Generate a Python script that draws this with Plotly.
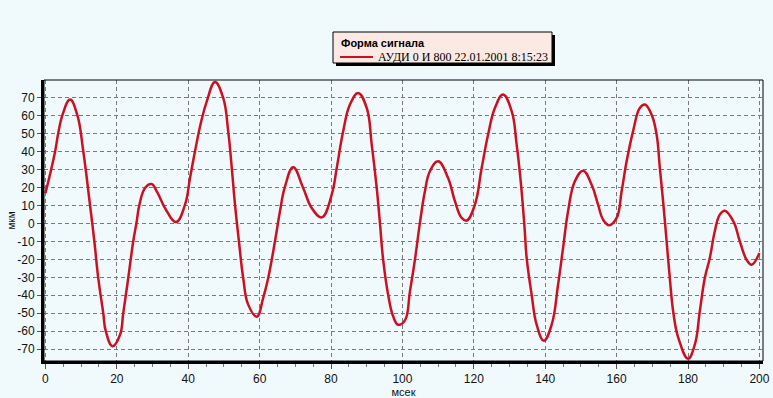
import plotly.graph_objects as go

# Signal samples (time in ms, amplitude in µm)
t_ms = [0, 2.7, 3.6, 4.8, 6.9, 8.9, 10.6, 12.5, 13.7, 14.8, 16.2, 16.9, 18.8,
        20.9, 21.8, 23.2, 24.6, 25.5, 26.3, 27.9, 29.7, 31.3, 33.8, 36.6,
        39.1, 40.5, 41.9, 43.6, 45.2, 47.5, 49.8, 51.2, 52.2, 53.1, 54.2,
        55.4, 56.8, 59.2, 61.0, 62.4, 64.3, 65.7, 67.1, 69.4, 72.2, 74.6,
        77.4, 80.2, 81.6, 83.4, 85.3, 87.6, 90.0, 91.4, 92.8, 93.7, 94.6,
        96.0, 97.4, 98.8, 100.7, 102.1, 103.5, 104.9, 106.3, 107.7, 110.0,
        112.8, 114.7, 116.6, 118.0, 120.3, 122.2, 124.0, 125.9, 128.2, 130.6,
        132.0, 133.2, 134.2, 134.8, 136.2, 137.6, 139.6, 141.8, 143.6, 145.0,
        146.4, 148.3, 150.6, 153.0, 154.8, 156.2, 157.9, 160.0, 161.4, 162.8,
        164.6, 166.5, 167.9, 169.8, 171.2, 172.1, 173.1, 174.0, 174.9, 175.9,
        177.3, 180.0, 181.9, 183.3, 184.7, 186.1, 187.5, 188.9, 190.3, 192.7,
        194.5, 196.4, 197.8, 200.0]
amp_um = [16.8, 40.0, 50.4, 60.6, 69.0, 60.6, 40.2, 10.1, -9.9, -30.4, -49.9, -60.0, -68.4,
          -62.0, -49.9, -30.4, -9.9, 0.3, 10.1, 19.8, 22.0, 17.5, 7.5, 0.8,
          10.5, 25.3, 40.2, 56.5, 68.0, 78.8, 69.9, 51.3, 30.9, 10.5, -9.9,
          -30.4, -45.2, -51.9, -41.5, -30.4, -9.9, 6.8, 20.5, 31.3, 19.8, 8.6,
          3.4, 16.0, 30.9, 51.3, 66.2, 72.7, 64.3, 43.9, 19.8, 0.3, -20.2,
          -39.7, -51.7, -56.4, -54.0, -37.8, -20.2, 0.3, 17.9, 29.1, 34.6,
          25.3, 12.4, 3.1, 1.6, 10.5, 30.9, 49.5, 64.3, 71.8, 62.5,
          43.9, 22.0, -2.0, -19.2, -39.7, -56.4, -65.3, -56.4, -34.1, -13.6,
          6.8, 23.5, 29.4, 21.6, 10.5, 2.1, -1.0, 3.1, 17.9, 34.6,
          51.3, 64.3, 66.2, 60.6, 49.5, 30.9, 10.5, -9.9, -30.4, -49.9,
          -63.8, -75.3, -67.5, -48.9, -30.4, -19.2, -4.3, 4.9, 7.1, 1.2,
          -9.9, -20.2, -23.0, -16.4]

x_ticks = list(range(0, 201, 20))
y_ticks = list(range(-70, 71, 10))

series_name = "АУДИ 0 И 800 22.01.2001 8:15:23"
legend_title = "Форма сигнала"

W, H = 773, 398
ML, MR, MT, MB = 44, 10, 80, 37
PW, PH = W - ML - MR, H - MT - MB

def px(x):
    return (x - ML) / PW

def py(y):
    return (H - MB - y) / PH

bg = "#F0FAFD"
red = "#CC1020"

fig = go.Figure()
fig.add_trace(go.Scatter(
    x=t_ms, y=amp_um, mode="lines", name=series_name, showlegend=False,
    line=dict(color=red, width=2.5, shape="spline", smoothing=1.2),
))

# Legend box drawn by hand (box, shadow, sample line, texts)
LX0, LX1, LY0, LY1 = 333, 552, 32, 63
shapes = [
    dict(type="rect", xref="paper", yref="paper", x0=0, x1=1, y0=0, y1=1,
         line=dict(color="#000000", width=1), layer="above"),
    dict(type="rect", xref="paper", yref="paper",
         x0=px(LX0 + 3), x1=px(LX1 + 3), y0=py(LY1 + 3), y1=py(LY0 + 3),
         fillcolor="#000000", line=dict(width=0), layer="above"),
    dict(type="rect", xref="paper", yref="paper",
         x0=px(LX0), x1=px(LX1), y0=py(LY1), y1=py(LY0),
         fillcolor="#FBEAE4", line=dict(color="#000000", width=1), layer="above"),
    dict(type="line", xref="paper", yref="paper",
         x0=px(340), x1=px(373), y0=py(57), y1=py(57),
         line=dict(color=red, width=2), layer="above"),
]
annotations = [
    dict(text="<b>" + legend_title + "</b>", xref="paper", yref="paper",
         x=px(339), y=py(43), xanchor="left", yanchor="middle", showarrow=False,
         font=dict(family="Liberation Sans, Arial, sans-serif", size=11, color="#000000")),
    dict(text=series_name, xref="paper", yref="paper",
         x=px(376), y=py(57), xanchor="left", yanchor="middle", showarrow=False,
         font=dict(family="Liberation Serif, Times New Roman, serif", size=12, color="#000000")),
]

fig.update_layout(
    width=W, height=H,
    margin=dict(l=ML, r=MR, t=MT, b=MB, autoexpand=False),
    paper_bgcolor=bg, plot_bgcolor=bg,
    font=dict(family="Liberation Sans, Arial, sans-serif", size=11, color="#111111"),
    showlegend=False,
    xaxis=dict(
        range=[-0.4, 201], tickvals=x_ticks, ticktext=[str(v) for v in x_ticks],
        showgrid=True, gridcolor="#7A7A7A", gridwidth=1, griddash="4px,3px",
        zeroline=False, showline=True, linecolor="#000000", linewidth=3,
        ticks="outside", ticklen=5, tickcolor="#555555", tickwidth=1,
        minor=dict(dtick=5, tick0=0, ticks="outside", ticklen=3, tickcolor="#777777", showgrid=False),
        title=dict(text="мсек", font=dict(size=11), standoff=0),
        tickfont=dict(size=12), automargin=False,
    ),
    yaxis=dict(
        range=[-76.6, 79.9], tickvals=y_ticks, ticktext=[str(v) for v in y_ticks],
        showgrid=True, gridcolor="#7A7A7A", gridwidth=1, griddash="4px,3px",
        zeroline=False, showline=True, linecolor="#000000", linewidth=3,
        ticks="outside", ticklen=4, tickcolor="#555555", tickwidth=1,
        title=dict(text="мкм", font=dict(size=10), standoff=0),
        tickfont=dict(size=12), automargin=False,
    ),
    shapes=shapes,
    annotations=annotations,
)

fig.write_html(
    "out.html",
    config={"displayModeBar": False},
    post_script="document.body.style.margin='0';document.body.style.background='" + bg + "';",
)
